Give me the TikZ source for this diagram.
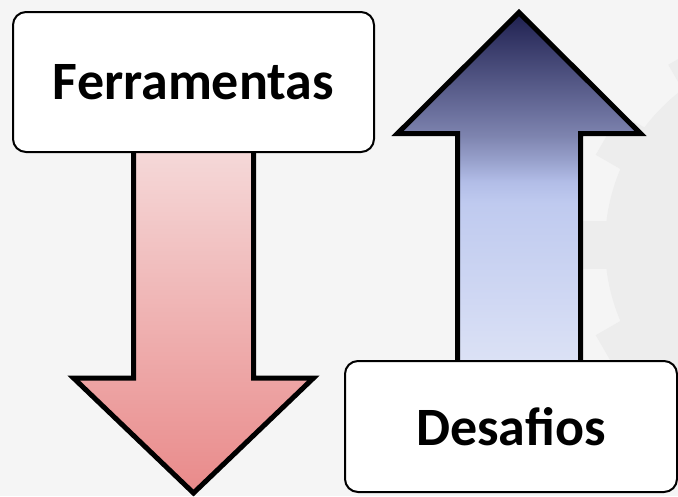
\documentclass[tikz,border=0pt]{standalone}
\usepackage{fontspec}
\setmainfont{Carlito}
\usetikzlibrary{calc}
\definecolor{pagebg}{HTML}{F5F5F5}
\definecolor{gearcol}{HTML}{EDEDED}
\definecolor{redtop}{HTML}{F5D9D9}
\definecolor{redmid}{HTML}{F0B2B2}
\definecolor{redbot}{HTML}{E98A8A}
\definecolor{upA}{HTML}{DCE2F5}
\definecolor{upB}{HTML}{D0D8F3}
\definecolor{upC}{HTML}{BFCAEF}
\definecolor{upD}{HTML}{B2BDE7}
\definecolor{upE}{HTML}{98A1CC}
\definecolor{upF}{HTML}{7E84AF}
\definecolor{upG}{HTML}{6A6F9C}
\definecolor{upH}{HTML}{1F2050}
\pgfdeclareverticalshading{upshade}{100bp}{color(0bp)=(upA); color(25bp)=(upA);
  color(34bp)=(upB); color(48bp)=(upC); color(51bp)=(upD); color(54bp)=(upE);
  color(57.5bp)=(upF); color(61bp)=(upG); color(75bp)=(upH); color(100bp)=(upH)}
\pgfdeclarelayer{back}
\pgfsetlayers{back,main}

\begin{document}
\begin{tikzpicture}
[x=1pt,y=-1pt,
  boxdecorate/.style={draw,line width=2pt,fill=white,rounded corners=13pt,
    inner sep=0pt,font=\bfseries\fontsize{54}{64}\selectfont},
  arrowdecorate/.style={draw,line width=5pt,miter limit=10}]
\useasboundingbox (0,0) rectangle (678,496);
\clip (0,0) rectangle (678,496);
%% boxes
\foreach \nodename/\x/\y/\w/\h/\label in {ferr/193.5/82/361pt/140pt/Ferramentas,
  desa/511/426.5/332pt/131pt/Desafios}
{
  \node (\nodename) at (\x,\y) [boxdecorate,minimum width=\w,minimum height=\h] {\label};
}
\begin{pgfonlayer}{back}
%% background and gear
\fill[pagebg] (0,0) rectangle (678,496);
\begin{scope}[shift={(800,245)}]
  \fill[gearcol] (0,0) circle (195pt);
  \foreach \a in {0,30,...,330}
    \fill[gearcol,rotate=\a] (-24,0) rectangle (24,222);
\end{scope}
%% arrows
\path[arrowdecorate,top color=redtop,middle color=redmid,bottom color=redbot]
  ($(ferr.south)+(-60,-5)$) -- ++(0,230) -- ++(-60,0) -- ++(120,115)
  -- ++(120,-115) -- ++(-60,0) -- ++(0,-230) -- cycle;
\path[arrowdecorate,shading=upshade]
  ($(desa.north)+(-53.5,5)$) -- ++(0,-231.5) -- ++(-60,0) -- ++(121.5,-121)
  -- ++(121.5,121) -- ++(-60,0) -- ++(0,231.5) -- cycle;
\end{pgfonlayer}
\end{tikzpicture}
\end{document}
